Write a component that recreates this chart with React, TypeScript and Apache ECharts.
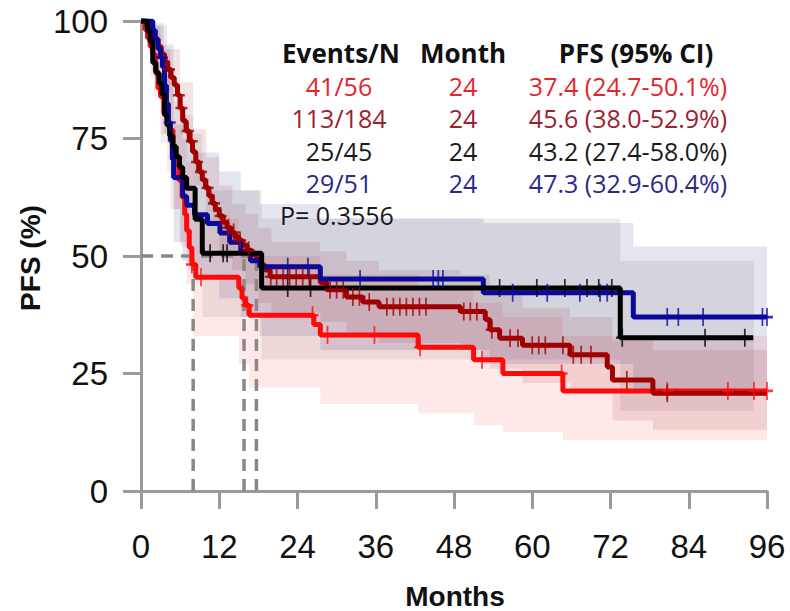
import React, { useEffect, useRef } from "react";
import * as echarts from "echarts";

// ---------- data ----------
const xMax = 96;
const xInterval = 12;
const yInterval = 25;

const redCurve = [[0,100],[0.6,98.2],[1.0,96.4],[1.4,94.6],[1.8,92.9],[2.2,89.3],[2.6,85.7],[3.0,83.9],[3.5,80.4],[4.0,78.6],[4.4,76.8],[4.9,73.2],[5.3,69.6],[5.8,66.1],[6.3,62.5],[6.7,58.9],[7.0,55.4],[7.4,51.8],[7.8,48.2],[8.4,45.5],[15.0,43.2],[15.5,41.0],[16.0,39.5],[16.6,37.4],[26.5,35.4],[27.5,33.2],[42.5,30.6],[51.0,27.9],[55.5,25.0],[64.7,21.3],[96,21.3]];
const darkRedCurve = [[0,100],[0.8,98.9],[1.4,97.8],[2,96.2],[2.6,94.6],[3.1,93],[3.6,91.3],[4.1,89.7],[4.6,88],[5.1,86.4],[5.6,84.2],[6,81.5],[6.4,78.8],[6.9,76.6],[7.4,74.4],[7.9,72.2],[8.4,70],[8.9,67.9],[9.4,66.2],[9.9,64.5],[10.4,62.8],[10.9,61.2],[11.4,59.9],[12,58.5],[12.6,57.2],[13.2,56],[13.8,55],[14.4,54.1],[15,53.3],[15.6,52.3],[16.3,51.2],[17,50.3],[17.7,49.2],[18.3,48.1],[19,47],[19.8,45.6],[27.5,44.3],[28.5,42.8],[31.5,41.3],[34,40.2],[36.5,39.2],[49,38.2],[52.8,36.5],[53.5,34.3],[55,32.5],[58.5,31],[65.8,29],[71.5,26.4],[72.3,23.6],[78.5,20.8],[96,20.8]];
const blackCurve = [[0,100],[1.0,97.8],[1.4,95.6],[1.8,91.1],[2.3,88.9],[2.8,86.7],[3.2,84.4],[3.6,80],[4.0,77.8],[4.4,75.6],[4.9,73.3],[5.4,71.1],[5.9,68.9],[6.4,66.7],[7.0,64.4],[8.3,57.8],[9.4,50.6],[18.5,43.2],[73.5,32.6],[93.9,32.6]];
const blueCurve = [[0,100],[1.8,98],[2.2,96.1],[2.6,94.1],[3.0,92.2],[3.3,90.2],[3.6,86.3],[3.9,82.4],[4.2,78.4],[4.5,74.5],[4.8,70.6],[5.0,66.7],[6.4,62.7],[7.0,60.8],[8.2,58.8],[10.2,56.9],[12.1,54.9],[13.6,52.9],[15.3,51],[16.8,49],[18.2,47.7],[27.5,45.1],[52.5,42.2],[75.5,37],[96,37]];

const redCensor = [7.8, 9.2, 16.3, 26.3, 28.6, 35.8, 42.8, 52.3, 64.5, 80.7, 90, 94, 96];
const darkRedCensor = [4.3, 5.8, 6.2, 7.2, 7.8, 8.6, 9.2, 10.2, 11.2, 12.2, 13.4, 14.2, 15.2, 16.5, 19.9, 20.8, 21.8, 22.8, 23.8, 24.8, 25.8, 29, 30, 31, 32.5, 33.5, 35, 37.7, 38.7, 39.7, 40.7, 41.7, 42.7, 43.7, 49.5, 50.5, 51.5, 53.8, 56.6, 57.8, 60, 61, 62, 64.7, 66.3, 67.5, 69, 74.5, 80.7];
const blackCensor = [10.6, 12.6, 13.2, 22.5, 26, 55, 60.7, 65, 68.4, 70.2, 72.2, 73.8, 86.5, 92.6];
const blueCensor = [3.2, 4.4, 22.5, 25.6, 33.6, 44.8, 45.6, 46.3, 57, 62.3, 67.3, 70.4, 71.5, 80.7, 82.4, 86.2, 95.3, 96];

// confidence bands: [month, lower, upper]
const redBand = [[0,100,100],[1,93,100],[2,84,97],[3,76,93],[4,68,88],[5,60,83],[6,52,77],[7,44,70],[8,33,58],[15,27,53],[16.6,22,50],[27.5,18.5,46],[42.5,16.5,43],[51,14,40],[55.5,12.5,37],[64.7,10.8,33],[96,10.8,33]];
const darkRedBand = [[0,100,100],[2,93,99],[4,85,94],[6,76,87],[8,65,77],[10,57,71],[12,51,65],[14,47,61],[16,44,59],[18,40,56],[20,38,53],[27.5,36,51],[31.5,33.5,49],[36.5,31.5,47],[49,30,46],[53.5,26,43],[58.5,23,39],[65.8,21,37],[72.3,15,32],[78.5,13,30],[96,13,30]];
const blackBand = [[0,100,100],[1.5,88,99],[3,74,94],[4.5,60,85],[6,53,80],[8,47,76],[9.4,37,64],[18.5,28,58],[73.5,17,49],[94,17,49]];
const blueBand = [[0,100,100],[2,90,99.5],[3.5,76,95],[5,53,78],[6.4,49,75],[8.2,45,72],[12,41,68],[15.3,37,64],[18.2,33,61],[27.5,30,58],[52.5,27,57],[75.5,21.5,52],[96,21.5,52]];

const medianMonths = [8, 15.8, 17.7];
const medianLevel = 50;

const tableHeader = ["Events/N", "Month", "PFS (95% CI)"];
const tableEvents = ["41/56", "113/184", "25/45", "29/51"];
const tableMonth = ["24", "24", "24", "24"];
const tablePFS = ["37.4 (24.7-50.1%)", "45.6 (38.0-52.9%)", "43.2 (27.4-58.0%)", "47.3 (32.9-60.4%)"];
const pValue = "P= 0.3556";

const lineColors = ["#ff0a0a", "#a00000", "#000000", "#0a0a9a"];
const textColors = ["#e3262c", "#9b2230", "#1a1a1a", "#2a2a8c"];
const bandColors = ["rgba(255,0,0,0.09)", "rgba(140,0,0,0.10)", "rgba(0,0,0,0.07)", "rgba(0,0,110,0.10)"];

const plusPath = "path://M6,0 L8,0 L8,6 L14,6 L14,8 L8,8 L8,14 L6,14 L6,8 L0,8 L0,6 L6,6 Z";

function stepAt(curve: number[][], t: number): number {
  let v = curve[0][1];
  for (const p of curve) {
    if (p[0] <= t) v = p[1];
    else break;
  }
  return v;
}

function bandSeries(band: number[][], color: string) {
  return {
    type: "custom",
    silent: true,
    z: 1,
    data: band,
    encode: { x: 0, y: [1, 2] },
    renderItem: (params: any, api: any) => {
      const i = params.dataIndex;
      if (i >= band.length - 1) return { type: "group", children: [] };
      const x0 = api.value(0);
      const lo = api.value(1);
      const hi = api.value(2);
      const x1 = band[i + 1][0];
      const p0 = api.coord([x0, hi]);
      const p1 = api.coord([x1, lo]);
      return {
        type: "rect",
        shape: { x: p0[0], y: p0[1], width: p1[0] - p0[0], height: p1[1] - p0[1] },
        style: { fill: color },
      };
    },
  };
}

export default function App() {
  const ref = useRef<HTMLDivElement>(null);
  useEffect(() => {
    if (!ref.current) return;
    const chart = echarts.init(ref.current, undefined, { renderer: "svg" });
    const curves = [redCurve, darkRedCurve, blackCurve, blueCurve];
    const censors = [redCensor, darkRedCensor, blackCensor, blueCensor];
    const bands = [redBand, darkRedBand, blackBand, blueBand];

    const series: any[] = [];
    bands.forEach((b, i) => series.push(bandSeries(b, bandColors[i])));
    // median dashed lines
    const dash = { color: "#888888", width: 3.5, type: [12, 8] };
    series.push({
      type: "line", data: [[0, medianLevel], [medianMonths[medianMonths.length - 1], medianLevel]],
      symbol: "none", lineStyle: dash, z: 2, silent: true,
    });
    medianMonths.forEach((m) =>
      series.push({ type: "line", data: [[m, 0], [m, medianLevel]], symbol: "none", lineStyle: dash, z: 2, silent: true })
    );
    const drawOrder = [0, 1, 3, 2];
    drawOrder.forEach((i) => {
      series.push({
        type: "line", data: curves[i], step: "end", symbol: "none", showSymbol: false,
        lineStyle: { color: lineColors[i], width: 5 }, z: 3, silent: true,
      });
    });
    drawOrder.forEach((i) => {
      series.push({
        type: "scatter", data: censors[i].map((t) => [t, stepAt(curves[i], t)]),
        symbol: plusPath, symbolSize: [12, 18], itemStyle: { color: lineColors[i] }, z: 4, silent: true,
      });
    });

    const tableFont = '"Open Sans", "Noto Sans", sans-serif';
    const axisFont = '"Liberation Sans", Arial, sans-serif';
    const graphics: any[] = [];
    const colX = [339, 463, 628];
    const hdrX = [341, 463, 636];
    tableHeader.forEach((h, j) =>
      graphics.push({ type: "text", x: hdrX[j], y: 53, style: { text: h, font: `bold 26px ${tableFont}`, fill: "#111", textAlign: "center", textVerticalAlign: "middle" } })
    );
    const rowY = [86, 118, 151, 183];
    for (let r = 0; r < 4; r++) {
      const vals = [tableEvents[r], tableMonth[r], tablePFS[r]];
      vals.forEach((v, j) =>
        graphics.push({ type: "text", x: colX[j], y: rowY[r], style: { text: v, font: `25px ${tableFont}`, fill: textColors[r], textAlign: "center", textVerticalAlign: "middle" } })
      );
    }
    graphics.push({ type: "text", x: 280, y: 215, style: { text: pValue, font: `25px ${tableFont}`, fill: "#1a1a1a", textAlign: "left", textVerticalAlign: "middle" } });
    graphics.push({ type: "text", x: 455, y: 596, style: { text: "Months", font: `bold 28px ${axisFont}`, fill: "#111", textAlign: "center", textVerticalAlign: "middle" } });
    graphics.push({ type: "text", x: 30, y: 258, rotation: Math.PI / 2, style: { text: "PFS (%)", font: `bold 28px ${axisFont}`, fill: "#111", textAlign: "center", textVerticalAlign: "middle" } });

    const axisCol = "#9a9a9a";
    chart.setOption({
      animation: false,
      grid: { left: 141, right: 23, top: 21, bottom: 120 },
      xAxis: {
        type: "value", min: 0, max: xMax, interval: xInterval,
        axisLine: { lineStyle: { color: axisCol, width: 3 } },
        axisTick: { show: true, length: 18, lineStyle: { color: axisCol, width: 3 } },
        axisLabel: { fontSize: 33, color: "#111", margin: 39, fontFamily: axisFont },
        splitLine: { show: false },
      },
      yAxis: {
        type: "value", min: 0, max: 100, interval: yInterval,
        axisLine: { show: true, lineStyle: { color: axisCol, width: 3 } },
        axisTick: { show: true, length: 18, lineStyle: { color: axisCol, width: 3 } },
        axisLabel: { fontSize: 33, color: "#111", margin: 33, fontFamily: axisFont },
        splitLine: { show: false },
      },
      graphic: graphics,
      series,
    });
    return () => chart.dispose();
  }, []);
  return <div ref={ref} style={{ position: "absolute", left: 0, top: 0, width: 790, height: 611 }} />;
}
